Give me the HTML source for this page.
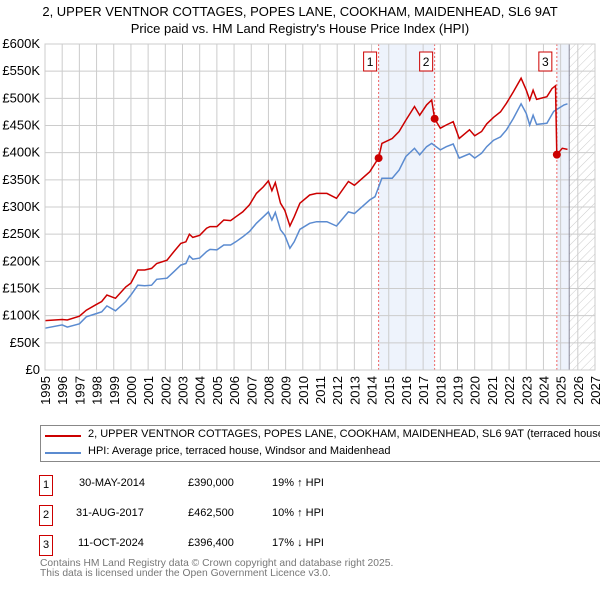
<!DOCTYPE html>
<html><head><meta charset="utf-8">
<style>
body{margin:0;background:#fff;font-family:"Liberation Sans","DejaVu Sans",sans-serif;}
#wrap{position:relative;width:600px;height:590px;overflow:hidden;}
.t{position:absolute;font-size:11px;color:#000;white-space:nowrap;}
.box{position:absolute;width:12px;height:19px;border:1px solid #c00;font-size:11px;text-align:center;line-height:19px;}
</style></head>
<body><div id="wrap">
<svg id="chart" width="600" height="420" style="position:absolute;left:0;top:0">
<defs><pattern id="hatch" width="6" height="6" patternUnits="userSpaceOnUse" patternTransform="rotate(45)"><line x1="0" y1="0" x2="0" y2="6" stroke="#ccc" stroke-width="1"/></pattern></defs>
<text x="300" y="16" text-anchor="middle" font-size="13">2, UPPER VENTNOR COTTAGES, POPES LANE, COOKHAM, MAIDENHEAD, SL6 9AT</text>
<text x="300" y="33" text-anchor="middle" font-size="13">Price paid vs. HM Land Registry's House Price Index (HPI)</text>
</svg>
<div style="position:absolute;left:40px;top:425px;width:600px;height:35px;border:1px solid #888;">
 <div style="position:absolute;left:4px;top:9px;width:36px;height:2px;background:#c00"></div>
 <div class="t" style="left:47px;top:2px">2, UPPER VENTNOR COTTAGES, POPES LANE, COOKHAM, MAIDENHEAD, SL6 9AT (terraced house)</div>
 <div style="position:absolute;left:4px;top:26px;width:36px;height:2px;background:#5b8bd0"></div>
 <div class="t" style="left:47px;top:19px">HPI: Average price, terraced house, Windsor and Maidenhead</div>
</div>
<div>
<div class="box" style="left:39px;top:475px">1</div>
<div class="t" style="left:79px;top:477px">30-MAY-2014</div><div class="t" style="left:188px;top:477px">£390,000</div><div class="t" style="left:272px;top:477px">19% ↑ HPI</div>
<div class="box" style="left:39px;top:505px">2</div>
<div class="t" style="left:76px;top:507px">31-AUG-2017</div><div class="t" style="left:188px;top:507px">£462,500</div><div class="t" style="left:272px;top:507px">10% ↑ HPI</div>
<div class="box" style="left:39px;top:535px">3</div>
<div class="t" style="left:78px;top:537px">11-OCT-2024</div><div class="t" style="left:188px;top:537px">£396,400</div><div class="t" style="left:272px;top:537px">17% ↓ HPI</div>
</div>
<div class="t" style="left:40px;top:559px;color:#777;line-height:10px;font-size:10.3px">Contains HM Land Registry data © Crown copyright and database right 2025.<br>This data is licensed under the Open Government Licence v3.0.</div>
</div>
<script>
const hpiYears=[1995,1996,1996.3,1997,1997.4,1998,1998.3,1998.6,1999.1,1999.7,2000,2000.4,2000.8,2001.2,2001.5,2002.1,2002.5,2002.9,2003.2,2003.4,2003.6,2004,2004.4,2004.6,2005,2005.4,2005.8,2006.1,2006.5,2006.9,2007.3,2007.7,2008,2008.2,2008.4,2008.7,2008.95,2009.25,2009.5,2009.83,2010.4,2010.8,2011.4,2011.96,2012.65,2013,2013.9,2014.2,2014.6,2015.2,2015.6,2016,2016.5,2016.8,2017.2,2017.5,2018,2018.35,2018.75,2019.1,2019.7,2020,2020.4,2020.7,2021.1,2021.5,2021.85,2022.25,2022.7,2023,2023.2,2023.4,2023.6,2024.2,2024.6,2025.2,2025.4];
const hpiValues=[77,83,79,85,98,104,107,118,109,126,138,156,155,156,167,169,181,193,196,210,204,206,218,222,221,230,230,236,245,255,270,282,291,276,290,258,248,224,236,259,270,273,273,265,291,288,313,319,353,353,368,393,408,396,411,417,405,411,416,390,398,390,399,411,423,429,442,463,490,472,451,469,452,454,476,488,490];
const propYears=[1995,1996,1996.3,1997,1997.4,1998,1998.3,1998.6,1999.1,1999.7,2000,2000.4,2000.8,2001.2,2001.5,2002.1,2002.5,2002.9,2003.2,2003.4,2003.6,2004,2004.4,2004.6,2005,2005.4,2005.8,2006.1,2006.5,2006.9,2007.3,2007.7,2008,2008.2,2008.4,2008.7,2008.95,2009.25,2009.5,2009.83,2010.4,2010.8,2011.4,2011.96,2012.65,2013,2013.9,2014.2,2014.41,2014.6,2015.2,2015.6,2016,2016.5,2016.8,2017.2,2017.5,2017.67,2018,2018.35,2018.75,2019.1,2019.7,2020,2020.4,2020.7,2021.1,2021.5,2021.85,2022.25,2022.7,2023,2023.2,2023.4,2023.6,2024.2,2024.5,2024.7,2024.78,2025.1,2025.4];
const propValues=[91,93,92,99,110,121,126,138,132,153,160,184,184,187,196,202,218,233,236,250,244,248,261,264,264,276,275,282,291,304,325,337,348,330,345,307,294,265,282,307,322,325,325,316,347,340,365,380,390,417,426,439,460,485,469,488,497,462.5,445,451,457,426,442,431,439,453,465,475,491,512,537,515,497,515,498,503,518,523,396.4,408,406];
const saleYears=[2014.41,2017.67,2024.78];
const saleValues=[390,462.5,396.4];
const saleLabels=["1","2","3"];
const yTicks=[0,50,100,150,200,250,300,350,400,450,500,550,600];
const yTickLabels=["£0","£50K","£100K","£150K","£200K","£250K","£300K","£350K","£400K","£450K","£500K","£550K","£600K"];
const xTicks=[1995,1996,1997,1998,1999,2000,2001,2002,2003,2004,2005,2006,2007,2008,2009,2010,2011,2012,2013,2014,2015,2016,2017,2018,2019,2020,2021,2022,2023,2024,2025,2026,2027];
const X0=45,X1=595,Y0=370,Y1=44,ymin=1995,ymax=2027;
const xs=y=>X0+(y-ymin)/(ymax-ymin)*(X1-X0);
const ys=v=>Y0-v/600*(Y0-Y1);
const svg=document.getElementById('chart');const NS='http://www.w3.org/2000/svg';
function mk(t,a,p){const e=document.createElementNS(NS,t);for(const k in a)e.setAttribute(k,a[k]);(p||svg).appendChild(e);return e;}
let r=mk('rect',{x:xs(saleYears[0]),y:Y1,width:xs(saleYears[1])-xs(saleYears[0]),height:Y0-Y1,fill:'#eef3fc'});


r=mk('rect',{x:xs(saleYears[2]),y:Y1,width:xs(2025.5)-xs(saleYears[2]),height:Y0-Y1,fill:'#eef3fc'});


r=mk('rect',{x:xs(2025.5),y:Y1,width:X1-xs(2025.5),height:Y0-Y1,fill:'url(#hatch)'});


yTicks.forEach((v,i)=>{mk('line',{x1:X0,x2:X1,y1:ys(v),y2:ys(v),stroke:'#ccc'});
const t=mk('text',{x:X0-5,y:ys(v)+4,'text-anchor':'end','font-size':13});t.textContent=yTickLabels[i];

});
xTicks.forEach(y=>{mk('line',{x1:xs(y),x2:xs(y),y1:Y1,y2:Y0,stroke:'#ccc'});
const t=mk('text',{x:0,y:0,'text-anchor':'end','font-size':13,transform:`translate(${xs(y)+5},${Y0+6}) rotate(-90)`});t.textContent=y;

});
mk('line',{x1:xs(2025.5),x2:xs(2025.5),y1:Y1,y2:Y0,stroke:'#889'});
saleYears.forEach((y,i)=>{mk('line',{x1:xs(y),x2:xs(y),y1:Y1,y2:Y0,stroke:'#e66','stroke-dasharray':'2,2'});
const b=mk('rect',{x:xs(y)-14+(i==2?-4:-1),y:52,width:13,height:19,fill:'#fff',stroke:'#c00'});


const t=mk('text',{x:xs(y)-7.5+(i==2?-4:-1),y:66,'text-anchor':'middle','font-size':12});t.textContent=saleLabels[i];});
function line(xa,va,col,name){const d=xa.map((y,i)=>(i?'L':'M')+xs(y).toFixed(1)+','+ys(va[i]).toFixed(1)).join('');
const p=mk('path',{d:d,fill:'none',stroke:col,'stroke-width':1.5});

}
line(hpiYears,hpiValues,'#5b8bd0','hpi-line');
line(propYears,propValues,'#cc0000','property-price-line');
saleYears.forEach((y,i)=>{const c=mk('circle',{cx:xs(y),cy:ys(saleValues[i]),r:4,fill:'#cc0000'});

});
mk('rect',{x:X0,y:Y1,width:X1-X0,height:Y0-Y1,fill:'none',stroke:'#ccc'});
</script>
</body></html>
